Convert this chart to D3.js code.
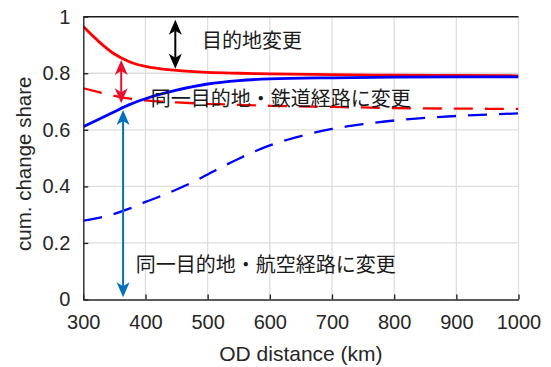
<!DOCTYPE html>
<html>
<head>
<meta charset="utf-8">
<script src="https://cdn.jsdelivr.net/npm/d3@7"></script>
<style>
  html, body { margin: 0; padding: 0; background: #fff; }
  svg text { font-family: "Liberation Sans", Arial, sans-serif; fill: #262626; }
  .jp { font-family: "Noto Sans CJK JP", sans-serif; fill: #1a1a1a; }
</style>
</head>
<body>
<div id="chart"></div>
<script>
// curve data
const distKm = [300, 325, 350, 375, 400, 450, 500, 550, 600, 700, 800, 900, 1000];
const redSolid = [0.965, 0.912, 0.868, 0.840, 0.824, 0.810, 0.803, 0.800, 0.798, 0.795, 0.793, 0.792, 0.791];
const blueSolid = [0.611, 0.637, 0.664, 0.690, 0.710, 0.740, 0.762, 0.774, 0.780, 0.784, 0.786, 0.787, 0.787];
const redDashed = [0.747, 0.733, 0.720, 0.710, 0.704, 0.697, 0.692, 0.688, 0.685, 0.681, 0.677, 0.675, 0.674];

const distKmB = [300, 325, 350, 375, 400, 425, 450, 475, 500, 525, 550, 575, 600, 650, 700, 750, 800, 850, 900, 950, 1000];
const blueDashed = [0.279, 0.289, 0.303, 0.322, 0.345, 0.366, 0.389, 0.414, 0.442, 0.471, 0.498, 0.523, 0.545, 0.578, 0.603, 0.620, 0.633, 0.642, 0.649, 0.654, 0.658];

const xTicks = [300, 400, 500, 600, 700, 800, 900, 1000];
const yTicks = [0, 0.2, 0.4, 0.6, 0.8, 1];
const yTickLabels = ["0", "0.2", "0.4", "0.6", "0.8", "1"];

// double arrows: [x, from, to]
const arrowBlack = [448, 0.989, 0.816];
const arrowRed = [361, 0.847, 0.694];
const arrowBlue = [364, 0.670, 0.008];

const labelTexts = ["目的地変更", "同一目的地・鉄道経路に変更", "同一目的地・航空経路に変更"];

const W = 551, H = 367;
const margin = {top: 16.7, right: 32.5, bottom: 67.5, left: 83.3};
const width = W - margin.left - margin.right;
const height = H - margin.top - margin.bottom;

const svg = d3.select("#chart").append("svg")
  .attr("width", W).attr("height", H);

const g = svg.append("g")
  .attr("transform", "translate(" + margin.left + "," + margin.top + ")");

const x = d3.scaleLinear().domain([300, 1000]).range([0, width]);
const y = d3.scaleLinear().domain([0, 1]).range([height, 0]);

// grid
g.append("g").selectAll("line").data(xTicks.slice(1)).enter().append("line")
  .attr("x1", d => x(d)).attr("x2", d => x(d))
  .attr("y1", 0).attr("y2", height)
  .attr("stroke", "#dedede").attr("stroke-width", 1.3);
g.append("g").selectAll("line").data(yTicks.slice(1, -1)).enter().append("line")
  .attr("x1", 0).attr("x2", width)
  .attr("y1", d => y(d)).attr("y2", d => y(d))
  .attr("stroke", "#dedede").attr("stroke-width", 1.3);

// top border
g.append("line")
  .attr("x1", 0).attr("x2", width).attr("y1", y(1)).attr("y2", y(1))
  .attr("stroke", "#1a1a1a").attr("stroke-width", 1.5);

// curves
svg.append("defs").append("clipPath").attr("id", "plotclip")
  .append("rect").attr("width", width).attr("height", height);

const line = d3.line().curve(d3.curveMonotoneX);
const curves = g.append("g").attr("clip-path", "url(#plotclip)");

function drawCurve(xs, ys, color, lw, dash) {
  const p = curves.append("path")
    .attr("d", line(xs.map((d, i) => [x(d), y(ys[i])])))
    .attr("fill", "none")
    .attr("stroke", color)
    .attr("stroke-width", lw);
  if (dash) p.attr("stroke-dasharray", dash);
}
drawCurve(distKm, redSolid, "#ff0000", 2.8);
drawCurve(distKm, redDashed, "#ff0000", 2.3, "19,12");
drawCurve(distKm, blueSolid, "#0000ff", 2.8);
drawCurve(distKmB, blueDashed, "#0000ff", 2.3, "19,12");

// axes
const xAxis = g.append("g")
  .attr("transform", "translate(0," + height + ")")
  .call(d3.axisBottom(x).tickValues(xTicks).tickFormat(d3.format("d"))
    .tickSizeInner(-5).tickSizeOuter(0).tickPadding(15));
const yAxis = g.append("g")
  .call(d3.axisLeft(y).tickValues(yTicks).tickFormat((d, i) => yTickLabels[i])
    .tickSizeInner(-5).tickSizeOuter(0).tickPadding(13));

[xAxis, yAxis].forEach(a => {
  a.select(".domain").attr("stroke", "#262626").attr("stroke-width", 1.4);
  a.selectAll(".tick line").attr("stroke", "#262626").attr("stroke-width", 1.4);
  a.selectAll(".tick text").attr("font-size", 20)
    .attr("font-family", "Liberation Sans, Arial, sans-serif").attr("fill", "#262626");
});

// axis titles
svg.append("text")
  .attr("x", margin.left + width / 2).attr("y", 361)
  .attr("text-anchor", "middle").attr("font-size", 21)
  .text("OD distance (km)");
svg.append("text")
  .attr("transform", "translate(31," + (margin.top + y(0.48)) + ") rotate(-90)")
  .attr("text-anchor", "middle").attr("font-size", 20.5)
  .text("cum. change share");

// double arrows
function doubleArrow(a, color) {
  const ax = x(a[0]), y1 = y(a[1]), y2 = y(a[2]);
  const L = 15, hw = 6.5, notch = 11;
  const grp = g.append("g");
  grp.append("line")
    .attr("x1", ax).attr("x2", ax).attr("y1", y1 + notch).attr("y2", y2 - notch)
    .attr("stroke", color).attr("stroke-width", 2);
  grp.append("path")
    .attr("d", `M${ax},${y1} L${ax + hw},${y1 + L} L${ax},${y1 + notch} L${ax - hw},${y1 + L} Z`)
    .attr("fill", color);
  grp.append("path")
    .attr("d", `M${ax},${y2} L${ax + hw},${y2 - L} L${ax},${y2 - notch} L${ax - hw},${y2 - L} Z`)
    .attr("fill", color);
}
doubleArrow(arrowBlack, "#000000");
doubleArrow(arrowRed, "#e8102f");
doubleArrow(arrowBlue, "#0072bd");

// annotations
function label(xv, yv, txt) {
  g.append("text").attr("class", "jp")
    .attr("x", x(xv)).attr("y", y(yv))
    .attr("dominant-baseline", "central")
    .attr("font-size", 20)
    .text(txt);
}
label(491, 0.921, labelTexts[0]);
label(408.4, 0.7125, labelTexts[1]);
label(384.3, 0.129, labelTexts[2]);
</script>
</body>
</html>
